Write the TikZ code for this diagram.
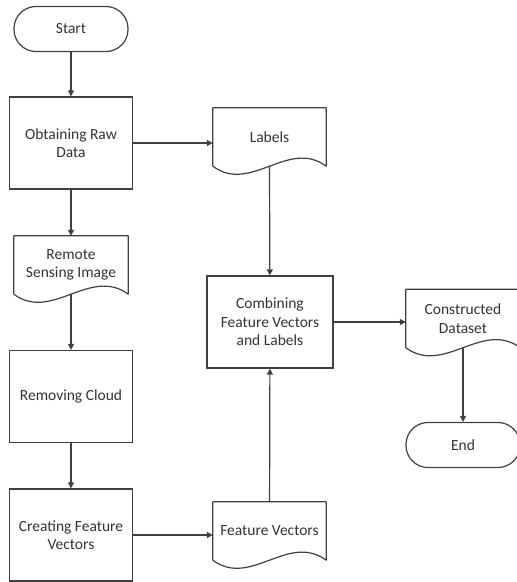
\documentclass[tikz,border=0pt]{standalone}
\usepackage{fontspec}
\setmainfont{Carlito}
\usetikzlibrary{arrows.meta}
\begin{document}
\begin{tikzpicture}[x = 1pt, y = -1pt,
    every node/.style = {font = \fontsize{15.5}{18.5}\selectfont, text = black!80, align = center},
    procbox/.style = {draw = black!75, line width = 1.2pt, minimum width = 123pt, minimum height = 92pt},
    termbox/.style = {draw = black!75, line width = 1.2pt, rounded corners = 22pt, minimum width = 114pt, minimum height = 45pt},
    docbox/.style = {minimum width = 114pt, minimum height = 58pt},
    flow/.style = {draw = black!75, line width = 1.2pt, -{Triangle[length = 6pt, width = 6pt]}}]
    \useasboundingbox (0,0) rectangle (517,582);
    % left column
    \node[termbox] (start) at (71, 29) {Start};
    \node[procbox] (raw) at (71, 143) {Obtaining Raw\\Data};
    \node[docbox] (rsi) at (71, 265) {Remote\\Sensing Image};
    \node[procbox] (cloud) at (71, 396.5) {Removing Cloud};
    \node[procbox] (feat) at (71, 535) {Creating Feature\\Vectors};
    % middle column
    \node[docbox, minimum width = 113pt] (labels) at (269.5, 137) {Labels};
    \node[procbox, minimum width = 126pt] (comb) at (270, 322) {Combining\\Feature Vectors\\and Labels};
    \node[docbox, minimum width = 113pt] (fv) at (269.5, 531) {Feature Vectors};
    % right column
    \node[docbox] (cds) at (463, 318.5) {Constructed\\Dataset};
    \node[termbox] (end) at (463, 445) {End};
    % document outlines
    \foreach \d in {rsi, labels, fv, cds}
        \draw[draw = black!75, line width = 1.2pt, line join = round]
            (\d.south west) -- (\d.north west) -- (\d.north east) -- (\d.south east)
            .. controls +(-38,-28) and +(38,28) .. (\d.south west);
    % connectors
    \draw[flow] (start) -- (raw);
    \draw[flow] (raw) -- (rsi);
    \draw[flow] (rsi.south) -- (cloud);
    \draw[flow] (cloud) -- (feat);
    \draw[flow] (raw) -- (raw -| labels.west);
    \draw[flow] (labels.south) -- (comb);
    \draw[flow] (feat) -- (feat -| fv.west);
    \draw[flow] (fv) -- (comb);
    \draw[flow] (comb) -- (comb -| cds.west);
    \draw[flow] (cds.south) -- (end);
\end{tikzpicture}
\end{document}
